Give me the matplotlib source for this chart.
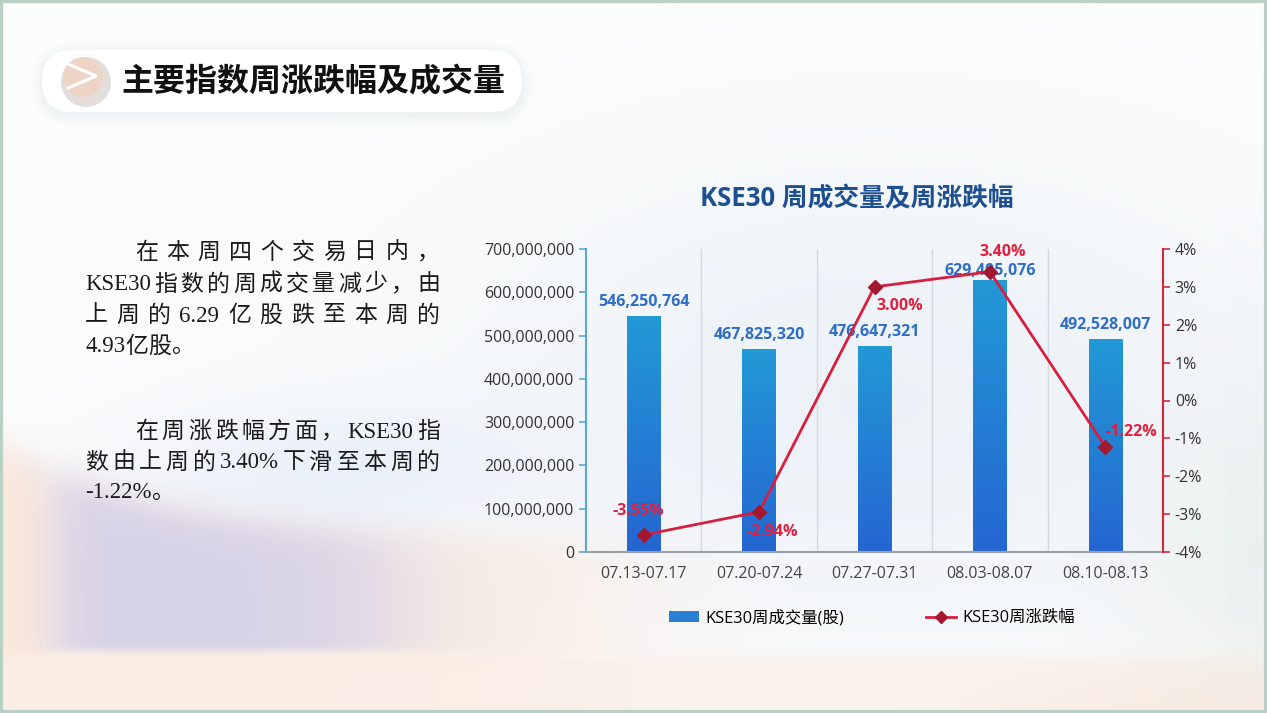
import numpy as np
import matplotlib
matplotlib.use('Agg')
import matplotlib.pyplot as plt
from matplotlib.patches import FancyBboxPatch, Rectangle, Circle, Patch
from matplotlib.lines import Line2D
from matplotlib.colors import LinearSegmentedColormap
from matplotlib.ticker import FuncFormatter

# ---- data ----
weeks = ['07.13-07.17', '07.20-07.24', '07.27-07.31', '08.03-08.07', '08.10-08.13']
volume = [546250764, 467825320, 476647321, 629405076, 492528007]
change_pct = [-3.55, -2.94, 3.00, 3.40, -1.22]
vol_ticks = [0, 100000000, 200000000, 300000000, 400000000, 500000000, 600000000, 700000000]
pct_ticks = [-4, -3, -2, -1, 0, 1, 2, 3, 4]

header = '主要指数周涨跌幅及成交量'
chart_title = 'KSE30 周成交量及周涨跌幅'
legend_labels = ['KSE30周成交量(股)', 'KSE30周涨跌幅']
para1 = ['在本周四个交易日内，', 'KSE30指数的周成交量减少，由', '上周的6.29亿股跌至本周的', '4.93亿股。']
para2 = ['在周涨跌幅方面，KSE30指', '数由上周的3.40%下滑至本周的', '-1.22%。']

# label offsets (pixels)
bar_offsets = [6, 6, 6, 1, 6]
pct_offsets = [(-5, 24), (13, -20), (25, -19), (13, 20), (26, 15)]

plt.rcParams['font.family'] = ['Open Sans', 'Noto Sans CJK SC', 'DejaVu Sans']

W, H = 1267, 713
fig = plt.figure(figsize=(W / 100, H / 100), dpi=100)

# ---- background image ----
yy, xx = np.mgrid[0:H, 0:W].astype(float)
img = np.ones((H, W, 3))
img[:] = (0.988, 0.992, 0.992)


def sig(v):
    return 1 / (1 + np.exp(-np.clip(v, -50, 50)))


def blend(img, a, color):
    a = np.clip(a, 0, 1)[..., None]
    return img * (1 - a) + np.array(color) * a


def blob(cx, cy, sx, sy, strength):
    return strength * np.exp(-(((xx - cx) / sx) ** 2 + ((yy - cy) / sy) ** 2))


img = blend(img, blob(880, 400, 430, 240, 0.9), (0.91, 0.935, 0.965))
img = blend(img, blob(330, 470, 200, 70, 0.6), (0.86, 0.90, 0.97))
curve = 440 + 100 * (1 - np.exp(-xx / 150))
below = sig((yy - curve) / 10)
# peach under the curve, fading to the right
img = blend(img, 0.9 * below * sig((600 - xx) / 60), (0.98, 0.905, 0.855))
# bottom strip below the panel
img = blend(img, 0.7 * sig((yy - 655) / 4), (0.985, 0.94, 0.91))
# lavender patch inside the panel
lav = sig((xx - 55) / 14) * sig((390 - xx) / 40) * below * sig((650 - yy) / 2)
img = blend(img, 0.85 * lav, (0.79, 0.78, 0.895))
img = blend(img, blob(1260, 560, 140, 170, 0.55), (0.89, 0.915, 0.905))
img = blend(img, blob(1200, 715, 220, 45, 0.5), (0.98, 0.90, 0.84))

bg = fig.add_axes([0, 0, 1, 1])
bg.imshow(img, extent=[0, W, H, 0], aspect='auto', zorder=0)
bg.set_xlim(0, W)
bg.set_ylim(H, 0)
bg.axis('off')

# panel
bg.add_patch(FancyBboxPatch((40, 137), 1186, 523, boxstyle='round,pad=0,rounding_size=26',
                            facecolor='white', alpha=0.15, edgecolor='none', zorder=1))
# outer frame
bg.add_patch(Rectangle((1, 1), W - 2, H - 2, fill=False, edgecolor='#b9d0c5', lw=3, zorder=5))

# header pill with soft shadow
for k, al in [(10, 0.025), (6, 0.035), (3, 0.05)]:
    bg.add_patch(FancyBboxPatch((42 - k, 50 - k + 3), 480 + 2 * k, 62 + 2 * k,
                                boxstyle='round,pad=0,rounding_size=%d' % (31 + k),
                                facecolor='#9fb7ad', alpha=al, edgecolor='none', zorder=2))
bg.add_patch(FancyBboxPatch((42, 50), 480, 62, boxstyle='round,pad=0,rounding_size=31',
                            facecolor='white', edgecolor='none', zorder=3))
bg.add_patch(Circle((86, 82), 25, facecolor='#dcd6d3', edgecolor='none', alpha=0.8, zorder=3))
bg.add_patch(Circle((83, 77), 20, facecolor='#f2d2c2', edgecolor='none', alpha=0.8, zorder=3))
bg.plot([68, 96, 68], [64, 76, 88], color='white', lw=2.2, zorder=4)
bg.text(121, 82, header, fontsize=23, fontweight='bold', color='#111111',
        va='center', ha='left', family=['Noto Sans CJK SC'], zorder=4)

# ---- left paragraph text, justified per line ----
renderer = fig.canvas.get_renderer()


def put_line(text, x0, x1, y, justify):
    toks, buf = [], ''
    for ch in text:
        if ord(ch) < 128:
            buf += ch
        else:
            if buf:
                toks.append(buf)
                buf = ''
            toks.append(ch)
    if buf:
        toks.append(buf)
    objs = [bg.text(0, y, t, va='center', ha='left', fontsize=16.5, color='#1a1a1a',
                    family=['Liberation Serif', 'Noto Sans CJK SC'], zorder=4) for t in toks]
    widths = [o.get_window_extent(renderer).width for o in objs]
    gap = 0
    if justify and len(toks) > 1:
        gap = (x1 - x0 - sum(widths)) / (len(toks) - 1)
    x = x0
    for o, w in zip(objs, widths):
        o.set_x(x)
        x += w + gap


ys1 = [253, 285, 316, 347]
for i, line in enumerate(para1):
    put_line(line, 135 if i == 0 else 85, 440, ys1[i], i < len(para1) - 1)
ys2 = [432, 463, 492]
for i, line in enumerate(para2):
    put_line(line, 135 if i == 0 else 85, 440, ys2[i], i < len(para2) - 1)

# ---- chart ----
bg.text(857, 199, chart_title, fontsize=18.5, fontweight='bold', color='#1d4f91',
        ha='center', va='center', zorder=4)

ax = fig.add_axes([586 / W, 1 - 552 / H, (1163 - 586) / W, (552 - 249) / H])
ax.set_facecolor('none')
x = np.arange(len(weeks))
bars = ax.bar(x, volume, width=0.29, facecolor='none', edgecolor='none', zorder=2)

bar_cmap = LinearSegmentedColormap.from_list('b', ['#2566d1', '#2299d6'])
grad = np.linspace(0, 1, 256).reshape(-1, 1)
for b in bars:
    x0, y0, bw, bh = b.get_x(), b.get_y(), b.get_width(), b.get_height()
    im = ax.imshow(grad, extent=[x0, x0 + bw, y0, y0 + bh], origin='lower',
                   cmap=bar_cmap, aspect='auto', zorder=2)
    im.set_clip_path(b)

for i, v in enumerate(volume):
    ax.annotate(f'{v:,}', (x[i], v), xytext=(0, bar_offsets[i]), textcoords='offset pixels',
                ha='center', va='bottom', fontsize=11.5, fontweight='bold',
                color='#2e6ec6', zorder=5)

ax.set_xlim(-0.5, len(weeks) - 0.5)
ax.set_ylim(0, 700000000)
ax.set_yticks(vol_ticks)
ax.yaxis.set_major_formatter(FuncFormatter(lambda v, p: f'{int(v):,}'))
ax.set_xticks(x)
ax.set_xticklabels(weeks)
for b in np.arange(0.5, len(weeks) - 0.5, 1):
    ax.axvline(b, color='#d3d9e1', lw=1, zorder=1)

for s in ['top', 'right']:
    ax.spines[s].set_visible(False)
ax.spines['left'].set_color('#5aa8da')
ax.spines['left'].set_linewidth(1.5)
ax.spines['bottom'].set_color('#98a2ad')
ax.spines['bottom'].set_linewidth(1.5)
ax.tick_params(axis='y', colors='#5aa8da', labelcolor='#333333', labelsize=11.5,
               length=5, width=1.2)
ax.tick_params(axis='x', length=0, labelsize=11.5, labelcolor='#444444', pad=10)

ax2 = ax.twinx()
ax2.plot(x, change_pct, color='#d81e3e', lw=2, marker='D', ms=7,
         mfc='#a3172f', mec='#a3172f', zorder=4)
ax2.set_ylim(-4, 4)
ax2.set_yticks(pct_ticks)
ax2.yaxis.set_major_formatter(FuncFormatter(lambda v, p: f'{int(v)}%'))
for s in ['top', 'left', 'bottom']:
    ax2.spines[s].set_visible(False)
ax2.spines['right'].set_color('#d9263f')
ax2.spines['right'].set_linewidth(1.5)
ax2.tick_params(axis='y', colors='#d9263f', labelcolor='#333333', labelsize=11.5,
                length=5, width=1.2)
for i, v in enumerate(change_pct):
    ax2.annotate(f'{v:.2f}%', (x[i], v), xytext=pct_offsets[i], textcoords='offset pixels',
                 ha='center', va='center', fontsize=11.5, fontweight='bold',
                 color='#e0203e', zorder=6)

handles = [Patch(facecolor='#2a80d4', edgecolor='none'),
           Line2D([0], [0], color='#d81e3e', lw=2, marker='D', ms=6,
                  mfc='#a3172f', mec='#a3172f')]
fig.legend(handles, legend_labels, loc='center', bbox_to_anchor=(872 / W, 1 - 618 / H),
           ncol=2, frameon=False, fontsize=11.8, handlelength=1.8, handleheight=0.6,
           handletextpad=0.4, columnspacing=5.0)

fig.savefig('out.png', dpi=100)
